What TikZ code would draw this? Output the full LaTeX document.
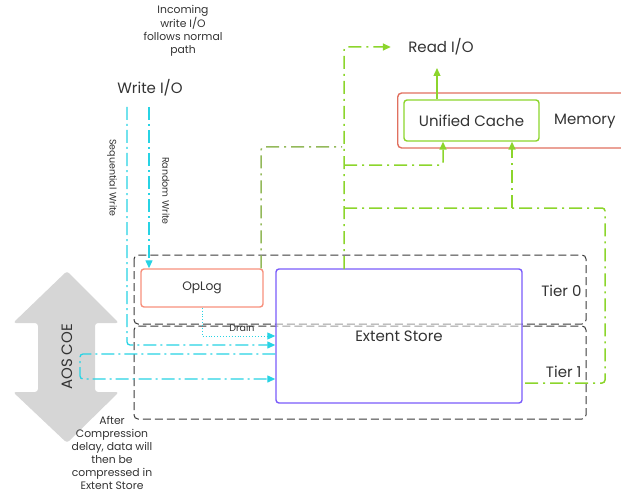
\documentclass[tikz,border=0pt]{standalone}
\usepackage{fontspec}
\setmainfont{Poppins}
\usetikzlibrary{arrows.meta,calc}

\definecolor{textgray}{HTML}{333333}
\definecolor{cyanline}{HTML}{27D3E4}
\definecolor{limeline}{HTML}{8CD52C}
\definecolor{oliveline}{HTML}{93B95A}
\definecolor{oplogred}{HTML}{F7907C}
\definecolor{memred}{HTML}{E0705F}
\definecolor{esviolet}{HTML}{7A5CFA}
\definecolor{tiergray}{HTML}{3A3A3A}
\definecolor{aosgray}{HTML}{D6D6D6}

\begin{document}
\begin{tikzpicture}[x=1pt,y=-1pt,
  every node/.style={text=textgray},
  tierbox/.style={draw=tiergray, line width=1pt, dash pattern=on 8pt off 4pt, rounded corners=4pt},
  cyanflow/.style={draw=cyanline, line width=1.3pt, dash pattern=on 13pt off 4pt on 2pt off 4pt, rounded corners=3pt},
  greenflow/.style={draw=limeline, line width=1.5pt, dash pattern=on 13pt off 5pt on 2pt off 5pt, rounded corners=3pt},
  flowtip/.style={-{Triangle[length=8pt,width=7pt]}},
  bigtext/.style={font=\fontsize{15}{18}\selectfont},
  smalltext/.style={font=\fontsize{9.5}{11}\selectfont},
  notetext/.style={font=\fontsize{10.8}{13}\selectfont, align=center}
]
\useasboundingbox (0,0) rectangle (621,492);

% AOS COE double arrow
\fill[aosgray, rounded corners=3pt] (67,271) -- (119,323) -- (95,323) -- (95,392) -- (119,392)
  -- (67,443) -- (13,392) -- (38,392) -- (38,323) -- (13,323) -- cycle;
\node[rotate=90, bigtext] (aos) at (67,357) {AOS COE};

% Tiers
\draw[tierbox] (134,255) rectangle (586,324);
\draw[tierbox] (134,326) rectangle (586,419);
\node[anchor=east, bigtext] (tier0) at (585,291) {Tier 0};
\node[anchor=east, bigtext] (tier1) at (585,372) {Tier 1};

% Boxes
\node[draw=oplogred, line width=1.4pt, rounded corners=3pt, minimum width=122pt, minimum height=38pt,
  font=\fontsize{12.3}{14}\selectfont] (oplog) at (202,288) {OpLog};
\node[draw=esviolet, line width=1.4pt, rounded corners=3pt, fill=white, fill opacity=0.5, text opacity=1,
  minimum width=246pt, minimum height=134pt, bigtext] (es) at (399,336) {Extent Store};
\node[draw=memred, line width=1.4pt, rounded corners=4pt, minimum width=263pt, minimum height=55pt,
  anchor=west] (memory) at (397,120.5) {};
\node[bigtext, anchor=west, inner sep=1pt] (memtext) at (553,121) {Memory};
\node[draw=limeline, line width=1.4pt, rounded corners=3pt, minimum width=135pt, minimum height=41pt,
  bigtext] (cache) at (471.5,120.5) {Unified Cache};

% Top labels
\node[bigtext] (writeio) at (150,88) {Write I/O};
\node[bigtext] (readio) at (441,47) {Read I/O};
\node[notetext] (incoming) at (183,31) {Incoming\\write I/O\\follows normal\\path};
\node[notetext] (after) at (112,453) {After\\Compression\\delay, data will\\then be\\compressed in\\Extent Store};

% Write paths
\coordinate (seqtop) at (127,107);
\coordinate (randtop) at (149,107);
\draw[cyanflow, flowtip] (seqtop) |- (es.west |- 0,345);
\draw[cyanflow, flowtip] (randtop) -- (randtop |- oplog.north);
\node[smalltext, rotate=-90] (seqlabel) at (112,178) {Sequential Write};
\node[smalltext, rotate=-90] (randlabel) at (166,191) {Random Write};

% Drain
\draw[cyanline, line width=0.9pt, dotted, flowtip] (oplog.south) |- (es.west |- 0,336);
\node[smalltext] (drain) at (242,328) {Drain};

% Compression loop
\coordinate (loopleft) at (80,354);
\draw[cyanflow, flowtip] (es.west |- loopleft) -- (loopleft) -- (80,379) -- (es.west |- 0,379);

% Read paths
\coordinate (readstem) at (344,269);
\coordinate (branchA) at (344,165);
\coordinate (branchB) at (344,208);
\coordinate (rightturn) at (605,383);
\draw[greenflow, flowtip] (readstem) |- ([xshift=-14pt]readio.west);
\draw[limeline, line width=1.3pt, flowtip] ([xshift=-34.5pt]cache.north) -- ([xshift=-34.5pt]cache.north |- 0,68);
\draw[greenflow, flowtip] (branchA) -| ([xshift=-28.5pt]cache.south);
\draw[greenflow] (branchB) -| (rightturn) -- (rightturn -| es.east);
\draw[greenflow, flowtip] ([xshift=40.5pt]cache.south |- branchB) -- ([xshift=40.5pt]cache.south);
\draw[greenflow, draw=oliveline] ([xshift=59pt]oplog.north) |- (342,147);

\end{tikzpicture}
\end{document}
